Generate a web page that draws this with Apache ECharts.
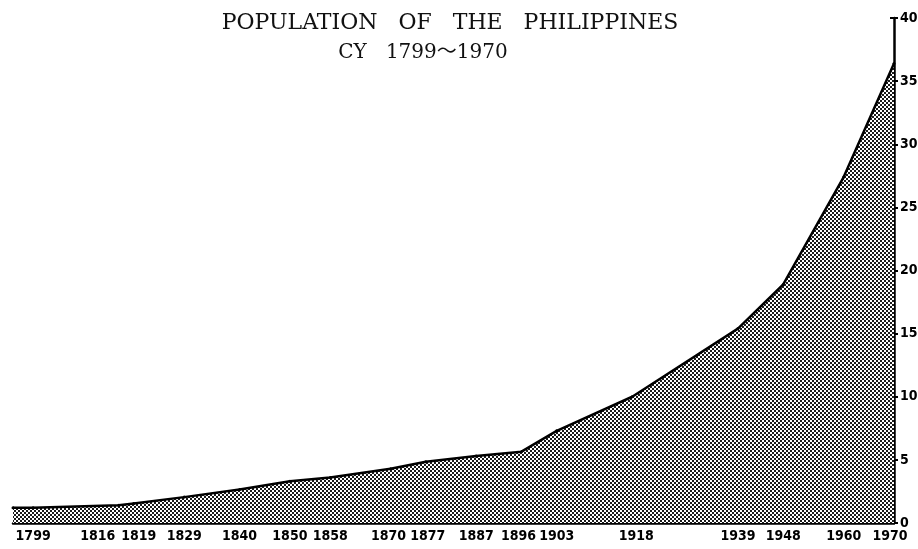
<!DOCTYPE html>
<html>
<head>
<meta charset="utf-8">
<script src="https://cdn.jsdelivr.net/npm/echarts@6/dist/echarts.min.js"></script>
<style>
html,body{margin:0;padding:0;background:#fff;}
#chart{width:918px;height:549px;}
</style>
</head>
<body>
<div id="chart"></div>
<script>
// Data (population, millions)
var years = [1795, 1799, 1816, 1819, 1829, 1840, 1850, 1858, 1870, 1877, 1887, 1896, 1903, 1918, 1939, 1948, 1960, 1970];
var population = [1.2, 1.2, 1.4, 1.55, 2.05, 2.65, 3.3, 3.6, 4.3, 4.85, 5.3, 5.65, 7.3, 10.0, 15.4, 18.9, 27.4, 36.4];
var tickYears = [1799, 1816, 1819, 1829, 1840, 1850, 1858, 1870, 1877, 1887, 1896, 1903, 1918, 1939, 1948, 1960, 1970];
var yTicks = [0, 5, 10, 15, 20, 25, 30, 35, 40];
var titleText = 'POPULATION   OF   THE   PHILIPPINES';
var subText = 'CY   1799～1970';

var seriesData = years.map(function (y, i) { return [y, population[i]]; });

// halftone pattern for the area
var pat = document.createElement('canvas');
pat.width = 4; pat.height = 4;
var pc = pat.getContext('2d');
pc.fillStyle = '#ffffff'; pc.fillRect(0, 0, 4, 4);
pc.fillStyle = '#1a1a1a';
pc.fillRect(0, 0, 2, 2);
pc.fillRect(2, 2, 2, 2);

var labelFont = {
  fontFamily: '"DejaVu Sans Condensed", "DejaVu Sans", sans-serif',
  fontWeight: 'bold',
  fontSize: 14,
  color: '#000'
};
// small hand-set nudges of crowded labels, as in the printed original
var labelShift = { 1816: -21, 1819: 5, 1870: -2, 1877: 2, 1896: -3, 1918: 4, 1970: -4 };
var rich = {};
Object.keys(labelShift).forEach(function (k) {
  var d = labelShift[k];
  rich['s' + k] = Object.assign({ padding: d < 0 ? [0, -2 * d, 0, 0] : [0, 0, 0, 2 * d] }, labelFont);
});

var chart = echarts.init(document.getElementById('chart'));
chart.setOption({
  backgroundColor: '#fff',
  animation: false,
  title: [
    { text: titleText, left: 445, top: 7, textAlign: 'center',
      textStyle: { fontFamily: '"DejaVu Serif", serif', fontWeight: 'normal', fontSize: 22, color: '#111' } },
    { text: subText, left: 418, top: 38, textAlign: 'center',
      textStyle: { fontFamily: '"DejaVu Serif", "Noto Sans CJK JP", serif', fontWeight: 'normal', fontSize: 20, color: '#111' } }
  ],
  grid: { left: 13, right: 24, top: 18, bottom: 26, containLabel: false, outerBoundsMode: 'none' },
  xAxis: {
    type: 'value', min: 1795, max: 1970,
    splitLine: { show: false },
    axisLine: { lineStyle: { color: '#000', width: 2.5 } },
    axisTick: { inside: true, length: 4, customValues: tickYears, lineStyle: { color: '#000', width: 2 } },
    axisLabel: Object.assign({
      customValues: tickYears, margin: 6,
      formatter: function (v) {
        return labelShift[v] !== undefined ? '{s' + v + '|' + v + '}' : String(v);
      },
      rich: rich
    }, labelFont)
  },
  yAxis: [
    {
      type: 'value', position: 'right', min: 0, max: 40, interval: 5,
      splitLine: { show: false },
      axisLine: { show: true, lineStyle: { color: '#000', width: 2.5 } },
      axisTick: { show: true, length: 4, lineStyle: { color: '#000', width: 2 } },
      axisLabel: Object.assign({ margin: 6 }, labelFont, { fontSize: 14 })
    },
    {
      type: 'value', position: 'right', min: 0, max: 40, interval: 5,
      splitLine: { show: false },
      axisLine: { show: false },
      axisTick: { show: true, inside: true, length: 4, lineStyle: { color: '#000', width: 2 } },
      axisLabel: { show: false }
    }
  ],
  series: [{
    type: 'line',
    data: seriesData,
    symbol: 'circle',
    symbolSize: 3,
    itemStyle: { color: '#000' },
    lineStyle: { color: '#000', width: 2.5 },
    areaStyle: { color: { image: pat, repeat: 'repeat' }, opacity: 1 }
  }]
});
</script>
</body>
</html>
